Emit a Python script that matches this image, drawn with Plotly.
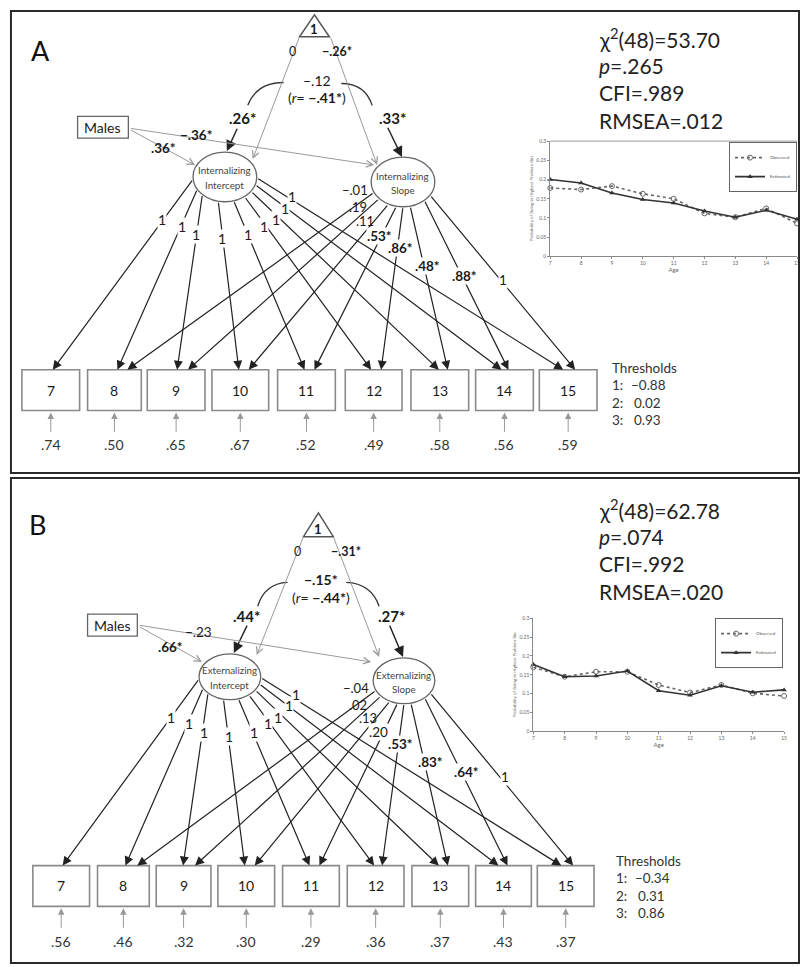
import math
import plotly.graph_objects as go

W, H = 804, 967
FONT = "Lato"

# ---------------- data ----------------
ages = [7, 8, 9, 10, 11, 12, 13, 14, 15]
age_labels = ["7", "8", "9", "10", "11", "12", "13", "14", "15"]

# Panel A : internalizing
int_load_A = [1, 1, 1, 1, 1, 1, 1, 1, 1]
slope_load_A = [0, -0.01, 0.19, 0.11, 0.53, 0.86, 0.48, 0.88, 1]
slope_sig_A = [False, False, False, False, True, True, True, True, False]
resid_A = [0.74, 0.50, 0.65, 0.67, 0.52, 0.49, 0.58, 0.56, 0.59]
thresh_A = [-0.88, 0.02, 0.93]
means_A = [0, -0.26]
means_sig_A = [False, True]
cov_A, cov_sig_A = -0.12, False
r_A, r_sig_A = -0.41, True
var_A = [0.26, 0.33]
var_sig_A = [True, True]
males_A = [0.36, -0.36]          # -> intercept, -> slope
males_sig_A = [True, True]
fit_A = [48, 53.70, 0.265, 0.989, 0.012]   # df, chi2, p, CFI, RMSEA
observed_A = [0.178, 0.174, 0.183, 0.163, 0.150, 0.112, 0.102, 0.125, 0.086]
estimated_A = [0.200, 0.191, 0.165, 0.148, 0.139, 0.118, 0.102, 0.120, 0.097]

# Panel B : externalizing
int_load_B = [1, 1, 1, 1, 1, 1, 1, 1, 1]
slope_load_B = [0, -0.04, 0.02, 0.13, 0.20, 0.53, 0.83, 0.64, 1]
slope_sig_B = [False, False, False, False, False, True, True, True, False]
resid_B = [0.56, 0.46, 0.32, 0.30, 0.29, 0.36, 0.37, 0.43, 0.37]
thresh_B = [-0.34, 0.31, 0.86]
means_B = [0, -0.31]
means_sig_B = [False, True]
cov_B, cov_sig_B = -0.15, True
r_B, r_sig_B = -0.44, True
var_B = [0.44, 0.27]
var_sig_B = [True, True]
males_B = [0.66, -0.23]
males_sig_B = [True, False]
fit_B = [48, 62.78, 0.074, 0.992, 0.020]
observed_B = [0.170, 0.145, 0.158, 0.158, 0.123, 0.103, 0.123, 0.101, 0.094]
estimated_B = [0.177, 0.145, 0.147, 0.160, 0.108, 0.096, 0.121, 0.104, 0.110]

MINUS = "\u2212"


def fmt(v, sig=False):
    if v == 1:
        s = "1"
    elif v == 0:
        s = "0"
    else:
        s = f"{abs(v):.2f}"[1:]
        if v < 0:
            s = MINUS + s
    if sig:
        s = "<b>" + s + "*</b>"
    return s


def fmt3(v):
    return f"{v:.3f}"[1:]


def fmt_thr(v):
    s = f"{abs(v):.2f}"
    return (MINUS + s) if v < 0 else s


# ---------------- layout geometry ----------------
geoA = dict(
    letter="A", border=(10, 8, 802, 473), label=(40, 48),
    apex=(315, 12), base_y=34, half=15,
    ic=(225, 175), sc=(404, 180), rx=32, ry=25,
    names=("Internalizing", "Intercept", "Slope"),
    males=(77, 114, 128, 136),
    box_x0=[21, 87, 147, 212, 278, 346, 412, 477, 541],
    box_x1=[79, 141, 205, 269, 336, 403, 470, 535, 599],
    box_y=(369, 410),
    int_end=[52, 117, 177, 239, 305, 372, 440, 503, 565],
    slope_end=[None, 127, 188, 249, 315, 382, 449, 510, 577],
    res_y=(433, 412, 444),
    int_lab=[(162, 218), (182, 225), (196, 233), (222, 237), (248, 233),
             (264, 225), (276, 218), (285, 207), (292, 195)],
    slope_lab=[None, (356, 188), (359, 205), (366, 219), (380, 234),
               (401, 247), (429, 265), (466, 275), (505, 279)],
    thr=(613, 367), fit=(600, 35),
    mean_lab=((293, 49), (338, 49)),
    cov_lab=((318, 78), (318, 95)),
    var_lab=((243, 116), (393, 116)),
    var_arrows=(((238, 125), (227, 149)), ((388, 124), (403, 155))),
    tri_lines=(((300, 34), (253, 157)), ((331, 34), (378, 163))),
    males_lines=(((129, 127), (195, 163)), ((129, 126), (375, 163))),
    males_lab=((163, 146), (196, 133)),
    curves=(((284, 80), (257, 80), (248, 103)), ((342, 81), (366, 81), (373, 103))),
    inset_x=(552, 800), inset_y=(255, 139), legend_xy=(800, 140), top_line=True,
)

geoB = dict(
    letter="B", border=(10, 478, 802, 966), label=(37, 525),
    apex=(319, 513), base_y=537, half=15,
    ic=(230, 678), sc=(405, 682), rx=31, ry=23,
    names=("Externalizing", "Intercept", "Slope"),
    males=(87, 615, 137, 637),
    box_x0=[32, 97, 156, 218, 283, 348, 413, 477, 539],
    box_x1=[89, 149, 211, 275, 340, 405, 470, 533, 596],
    box_y=(868, 909),
    int_end=[62, 125, 183, 245, 310, 375, 440, 500, 563],
    slope_end=[None, 137, 195, 255, 320, 383, 449, 509, 575],
    res_y=(932, 911, 944),
    int_lab=[(171, 719), (189, 725), (204, 734), (229, 738), (254, 734),
             (268, 725), (278, 719), (289, 707), (296, 696)],
    slope_lab=[None, (357, 689), (359, 706), (369, 719), (379, 734),
               (401, 746), (432, 764), (468, 774), (507, 779)],
    thr=(617, 863), fit=(600, 509),
    mean_lab=((298, 552), (347, 552)),
    cov_lab=((322, 580), (322, 598)),
    var_lab=((247, 617), (392, 617)),
    var_arrows=(((248, 625), (234, 654)), ((390, 625), (404, 658))),
    tri_lines=(((304, 537), (257, 656)), ((334, 537), (380, 658))),
    males_lines=(((138, 627), (202, 663)), ((138, 626), (372, 663))),
    males_lab=((170, 648), (198, 633)),
    curves=(((288, 583), (265, 584), (258, 607)), ((347, 583), (372, 584), (380, 607))),
    inset_x=(535, 787), inset_y=(733, 619), legend_xy=(786, 619), top_line=False,
)

INT_ANG = [175, 150, 135, 102, 74, 52, 35, 18, 2]
SLOPE_ANG = [None, 155, 138, 117, 102, 90, 77, 48, 32]

shapes = []
arrows = []
labels = []


def text(x, y, s, size=14, color="#1a1a1a", anchor="center", bg=None, **kw):
    d = dict(x=x, y=y, xref="x", yref="y", text=s, showarrow=False,
             font=dict(family=FONT, size=size, color=color),
             xanchor=anchor, yanchor="middle", borderpad=0, **kw)
    if bg:
        d["bgcolor"] = bg
    labels.append(d)


def arrow(p0, p1, color="#222", width=1.2, head=2, size=1.5):
    arrows.append(dict(x=p1[0], y=p1[1], ax=p0[0], ay=p0[1], xref="x", yref="y",
                       axref="x", ayref="y", text="", showarrow=True,
                       arrowhead=head, arrowsize=size, arrowwidth=width,
                       arrowcolor=color, standoff=0, startstandoff=0))


def on_ellipse(c, rx, ry, ang):
    a = math.radians(ang)
    return (c[0] + rx * math.cos(a), c[1] + ry * math.sin(a))


def draw_panel(g, int_load, slope_load, slope_sig, resid, thresh, means, means_sig,
               cov, cov_sig, r, r_sig, var, var_sig, males, males_sig, fit):
    x0, y0, x1, y1 = g["border"]
    shapes.append(dict(type="rect", xref="x", yref="y", x0=x0, y0=y0, x1=x1, y1=y1,
                       line=dict(color="#2a2a2a", width=2)))
    text(g["label"][0], g["label"][1], g["letter"], size=27, color="#111")

    # constant triangle
    ax_, ay_ = g["apex"]
    by, hw = g["base_y"], g["half"]
    shapes.append(dict(type="path", xref="x", yref="y",
                       path=f"M {ax_},{ay_} L {ax_-hw},{by} L {ax_+hw},{by} Z",
                       line=dict(color="#555", width=1.5)))
    text(ax_, by - 8, "<b>1</b>", size=13)

    # means
    for (p0, p1) in g["tri_lines"]:
        arrow(p0, p1, color="#9a9a9a", width=1, head=5, size=1.3)
    text(*g["mean_lab"][0], fmt(means[0], means_sig[0]), size=12.5)
    text(*g["mean_lab"][1], fmt(means[1], means_sig[1]), size=12.5)

    # covariance curve + variances
    for (p0, pc, p1) in g["curves"]:
        shapes.append(dict(type="path", xref="x", yref="y",
                           path=f"M {p0[0]},{p0[1]} Q {pc[0]},{pc[1]} {p1[0]},{p1[1]}",
                           line=dict(color="#333", width=1.3)))
        dx, dy = p1[0] - pc[0], p1[1] - pc[1]
        n = math.hypot(dx, dy)
        arrow((p1[0] - 4 * dx / n, p1[1] - 4 * dy / n), p1, color="#222", width=1.3, head=2, size=1.6)
    text(*g["cov_lab"][0], fmt(cov, cov_sig), size=14)
    text(*g["cov_lab"][1], "(<i>r</i>= " + fmt(r, r_sig) + ")", size=14)
    for (p0, p1) in g["var_arrows"]:
        arrow(p0, p1, color="#222", width=1.4, head=2, size=1.5)
    text(*g["var_lab"][0], fmt(var[0], var_sig[0]), size=15)
    text(*g["var_lab"][1], fmt(var[1], var_sig[1]), size=15)

    # males covariate
    mx0, my0, mx1, my1 = g["males"]
    shapes.append(dict(type="rect", xref="x", yref="y", x0=mx0, y0=my0, x1=mx1, y1=my1,
                       line=dict(color="#666", width=1.3)))
    text((mx0 + mx1) / 2, (my0 + my1) / 2 + 0.5, "Males", size=14)
    for (p0, p1) in g["males_lines"]:
        arrow(p0, p1, color="#9a9a9a", width=1, head=5, size=1.3)
    text(*g["males_lab"][0], fmt(males[0], males_sig[0]), size=13.5)
    text(*g["males_lab"][1], fmt(males[1], males_sig[1]), size=13.5)

    # latent factors
    ic, sc, rx, ry = g["ic"], g["sc"], g["rx"], g["ry"]
    for c in (ic, sc):
        shapes.append(dict(type="circle", xref="x", yref="y", x0=c[0] - rx, x1=c[0] + rx,
                           y0=c[1] - ry, y1=c[1] + ry, fillcolor="white",
                           line=dict(color="#666", width=1.3)))
    nm, i_nm, s_nm = g["names"]
    text(ic[0], ic[1] - 7, nm, size=9.8, color="#444")
    text(ic[0], ic[1] + 8, i_nm, size=9.8, color="#444")
    text(sc[0], sc[1] - 6, nm, size=9.8, color="#444")
    text(sc[0], sc[1] + 8, s_nm, size=9.8, color="#444")

    # observed indicators
    bt, bb = g["box_y"]
    ra, rb, rl = g["res_y"]
    for i in range(len(ages)):
        bx0, bx1 = g["box_x0"][i], g["box_x1"][i]
        cx = (bx0 + bx1) / 2
        shapes.append(dict(type="rect", xref="x", yref="y", x0=bx0, x1=bx1, y0=bt, y1=bb,
                           line=dict(color="#8a8a8a", width=1.6)))
        text(cx, (bt + bb) / 2, age_labels[i], size=14)
        arrow((cx, ra), (cx, rb), color="#999", width=1, head=2, size=1.3)
        text(cx, rl, fmt(resid[i]), size=14, color="#333")
        # intercept loading
        st = on_ellipse(ic, rx, ry, INT_ANG[i])
        arrow(st, (g["int_end"][i], bt), color="#222", width=1.2, head=2, size=1.5)
        text(*g["int_lab"][i], fmt(int_load[i]), size=14, bg="white")
        # slope loading
        if g["slope_end"][i] is not None:
            st = on_ellipse(sc, rx, ry, SLOPE_ANG[i])
            arrow(st, (g["slope_end"][i], bt), color="#222", width=1.2, head=2, size=1.5)
            text(*g["slope_lab"][i], fmt(slope_load[i], slope_sig[i]), size=13.5 if i >= 4 else 13,
                 bg="white" if i >= 4 else None)

    # thresholds
    tx, ty = g["thr"]
    text(tx, ty, "Thresholds", size=13.5, anchor="left", color="#333")
    for k, v in enumerate(thresh):
        yy = ty + 17.7 * (k + 1)
        text(tx, yy, f"{k+1}:", size=13.5, anchor="left", color="#333")
        text(tx + (19 if v < 0 else 22), yy, fmt_thr(v), size=13.5, anchor="left", color="#333")

    # fit indices
    fx, fy = g["fit"]
    df, chi2, p, cfi, rmsea = fit
    fit_lines = [f"\u03c7<sup>2</sup>({df})={chi2:.2f}", f"<i>p</i>={fmt3(p)}",
                 f"CFI={fmt3(cfi)}", f"RMSEA={fmt3(rmsea)}"]
    for k, s in enumerate(fit_lines):
        text(fx, fy + 27.7 * k, s, size=21, anchor="left", color="#222")

    if g["top_line"]:
        shapes.append(dict(type="line", xref="x", yref="y", x0=g["inset_x"][0], x1=g["inset_x"][1],
                           y0=g["inset_y"][1], y1=g["inset_y"][1], line=dict(color="#999", width=1)))


draw_panel(geoA, int_load_A, slope_load_A, slope_sig_A, resid_A, thresh_A, means_A, means_sig_A,
           cov_A, cov_sig_A, r_A, r_sig_A, var_A, var_sig_A, males_A, males_sig_A, fit_A)
draw_panel(geoB, int_load_B, slope_load_B, slope_sig_B, resid_B, thresh_B, means_B, means_sig_B,
           cov_B, cov_sig_B, r_B, r_sig_B, var_B, var_sig_B, males_B, males_sig_B, fit_B)

fig = go.Figure()
fig.add_trace(go.Scatter(x=[None], y=[None], xaxis="x", yaxis="y", showlegend=False, hoverinfo="skip"))

for (obs, est, xa, ya, lg) in ((observed_A, estimated_A, "x2", "y2", "legend"),
                               (observed_B, estimated_B, "x3", "y3", "legend2")):
    fig.add_trace(go.Scatter(x=ages, y=obs, xaxis=xa, yaxis=ya, mode="lines+markers", name="Observed",
                             legend=lg, cliponaxis=False,
                             line=dict(color="#666", width=1.6, dash="dot"),
                             marker=dict(symbol="circle-open", size=5, color="#666", line=dict(width=1))))
    fig.add_trace(go.Scatter(x=ages, y=est, xaxis=xa, yaxis=ya, mode="lines+markers", name="Estimated",
                             legend=lg, cliponaxis=False,
                             line=dict(color="#333", width=1.6),
                             marker=dict(symbol="triangle-up", size=5, color="#333")))


def inset_axes(g, anchor_x, anchor_y):
    xd = [g["inset_x"][0] / W, g["inset_x"][1] / W]
    yd = [(H - g["inset_y"][0]) / H, (H - g["inset_y"][1]) / H]
    xa = dict(domain=xd, anchor=anchor_y, range=[7, 15], tickvals=ages, ticktext=age_labels,
              showline=True, linecolor="#888", linewidth=1, ticks="outside", ticklen=2,
              tickcolor="#888", tickfont=dict(size=5, color="#666", family=FONT),
              showgrid=False, zeroline=False, fixedrange=True,
              title=dict(text="Age", font=dict(size=6, color="#666", family=FONT), standoff=2))
    ya = dict(domain=yd, anchor=anchor_x, range=[0, 0.3], dtick=0.05,
              showline=True, linecolor="#888", linewidth=1, ticks="outside", ticklen=2,
              tickcolor="#888", tickfont=dict(size=5, color="#666", family=FONT),
              showgrid=False, zeroline=False, fixedrange=True,
              title=dict(text="Probability of Being in Highest Problem Bin",
                         font=dict(size=4.5, color="#666", family=FONT), standoff=2))
    return xa, ya


xa2, ya2 = inset_axes(geoA, "x2", "y2")
xa3, ya3 = inset_axes(geoB, "x3", "y3")


def legend_cfg(g):
    return dict(x=g["legend_xy"][0] / W, xanchor="right", y=(H - g["legend_xy"][1]) / H, yanchor="top",
                bgcolor="white", bordercolor="#666", borderwidth=1, itemwidth=30,
                font=dict(size=4.5, color="#555", family=FONT), tracegroupgap=0)


fig.update_layout(
    width=W, height=H, margin=dict(l=0, r=0, t=0, b=0),
    paper_bgcolor="white", plot_bgcolor="rgba(0,0,0,0)",
    xaxis=dict(range=[0, W], domain=[0, 1], visible=False, fixedrange=True),
    yaxis=dict(range=[H, 0], domain=[0, 1], visible=False, fixedrange=True),
    xaxis2=xa2, yaxis2=ya2, xaxis3=xa3, yaxis3=ya3,
    legend=legend_cfg(geoA), legend2=legend_cfg(geoB),
    shapes=shapes, annotations=arrows + labels,
    showlegend=True,
)

fig.write_html("out.html", config={"displayModeBar": False},
               post_script="document.body.style.margin='0';document.body.style.padding='0';")
